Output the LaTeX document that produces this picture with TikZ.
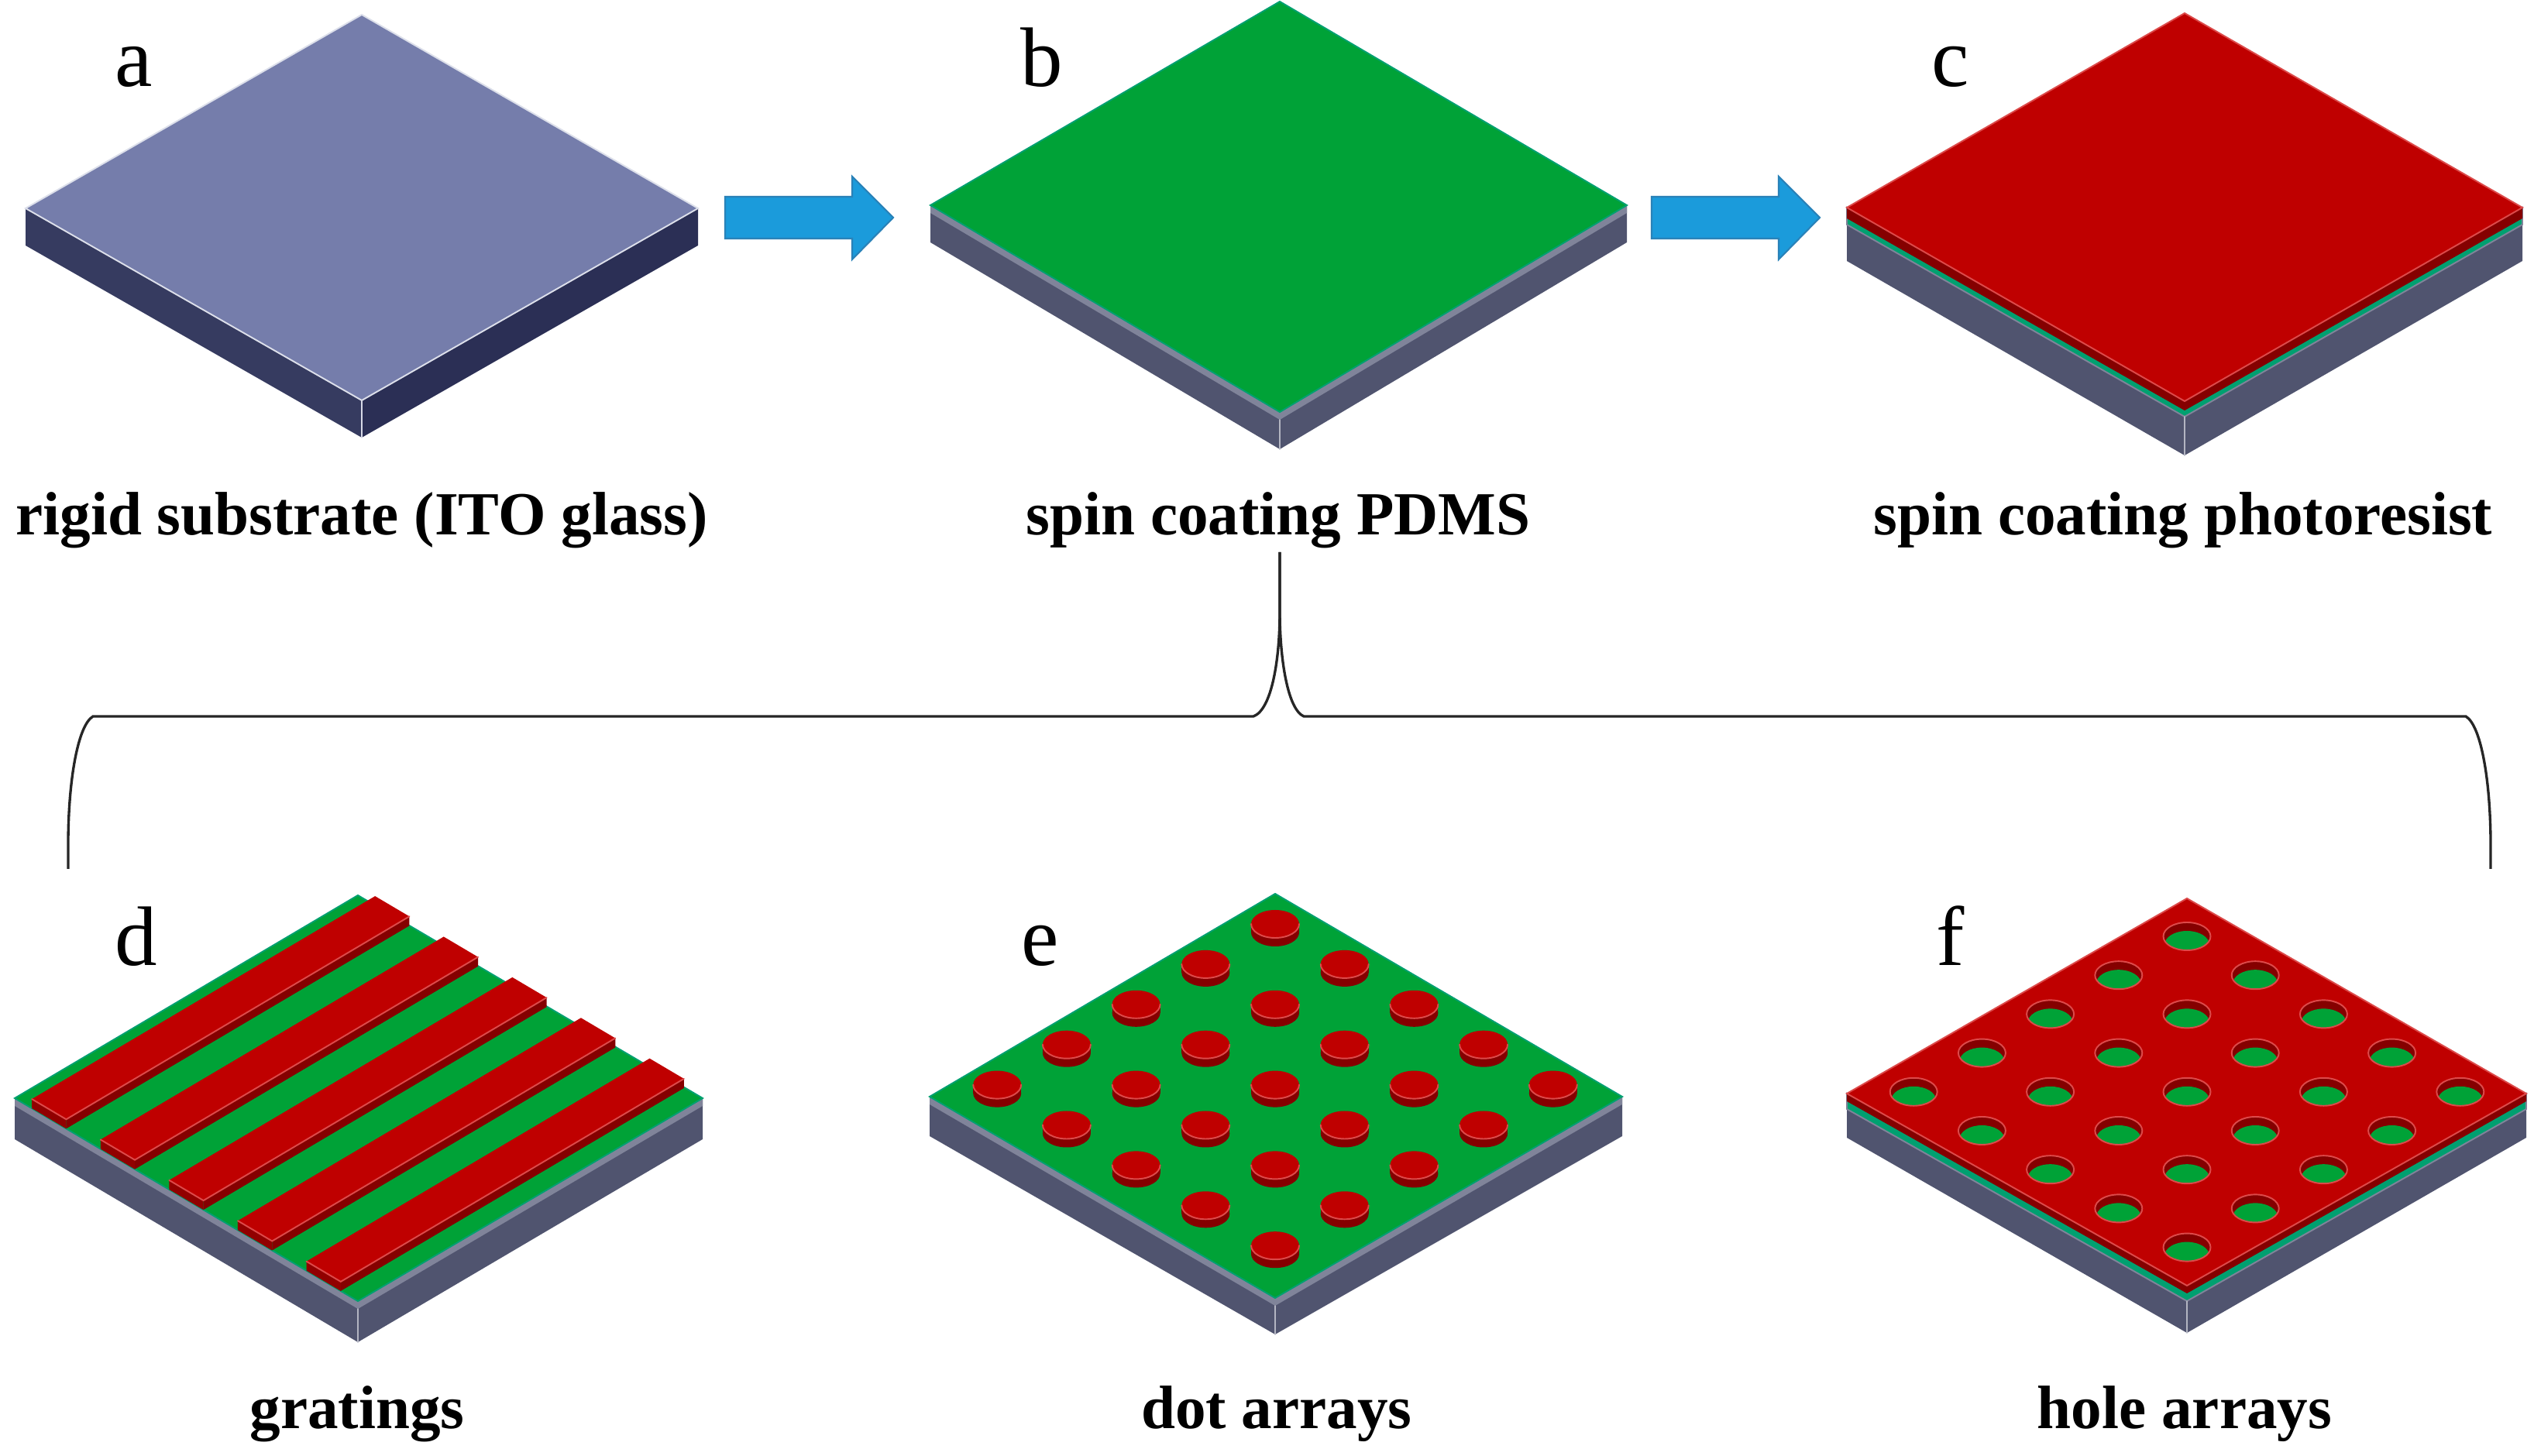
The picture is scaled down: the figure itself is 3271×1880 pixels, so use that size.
\documentclass[tikz,border=0pt]{standalone}
\usepackage{fontspec}
\setmainfont{Liberation Serif}
\definecolor{slabtop}{HTML}{757DAB}
\definecolor{slabl}{HTML}{363B60}
\definecolor{slabr}{HTML}{2B2F55}
\definecolor{basegray}{HTML}{50546F}
\definecolor{stripgray}{HTML}{80849A}
\definecolor{pdms}{HTML}{00A237}
\definecolor{pdmsedge}{HTML}{00A070}
\definecolor{resist}{HTML}{BF0000}
\definecolor{resistdark}{HTML}{850000}
\definecolor{resistedge}{HTML}{DC4A4A}
\definecolor{flow}{HTML}{1B9BDB}
\definecolor{flowedge}{HTML}{2A82B8}
\tikzset{
    capt/.style={font=\fontsize{22.5}{26}\selectfont\bfseries,anchor=base},
    tag/.style={font=\fontsize{31}{36}\selectfont,anchor=base},
    edgeline/.style={draw=#1,line width=0.55pt,line cap=round},
    bracket/.style={black!85,line width=0.95pt},
    flowarrow/.style={fill=flow,draw=flowedge,line width=0.6pt},
}
\begin{document}
\begin{tikzpicture}[x=0.01cm,y=-0.01cm]
        \useasboundingbox (0,0) rectangle (3271,1880);
        % a
        \fill[slabl] (33,269) -- (467,517) -- (467,565) -- (33,317) -- cycle;
        \fill[slabr] (901,269) -- (467,517) -- (467,565) -- (901,317) -- cycle;
        \filldraw[fill=slabtop,edgeline=white!75!slabtop] (467,19) -- (901,269) -- (467,517) -- (33,269) -- cycle;
        \draw[edgeline=white!70!slabtop] (467,517) -- (467,565);
        % b
        \fill[basegray] (1201,265) -- (1652,532) -- (2100,265) -- (2100,313) -- (1652,580) -- (1201,313) -- cycle;
        \fill[stripgray] (1201,265) -- (1652,532) -- (2100,265) -- (2100,275) -- (1652,542) -- (1201,275) -- cycle;
        \filldraw[fill=pdms,edgeline=pdmsedge] (1652,2) -- (2100,265) -- (1652,532) -- (1201,265) -- cycle;
        \draw[edgeline=stripgray!60!white] (1652,542) -- (1652,580);
        % c
        \fill[basegray] (2384,268) -- (2820,518) -- (3256,268) -- (3256,337) -- (2820,588) -- (2384,337) -- cycle;
        \filldraw[fill=pdmsedge,edgeline=stripgray] (2384,268) -- (2820,518) -- (3256,268) -- (3256,290) -- (2820,538) -- (2384,290) -- cycle;
        \fill[resistdark] (2384,268) -- (2820,518) -- (3256,268) -- (3256,282) -- (2820,530) -- (2384,282) -- cycle;
        \filldraw[fill=resist,edgeline=resistedge] (2820,17) -- (3256,268) -- (2820,518) -- (2384,268) -- cycle;
        \draw[edgeline=stripgray!60!white] (2820,538) -- (2820,588);
        % d
        \fill[basegray] (19,1418) -- (462,1680) -- (907,1418) -- (907,1471) -- (462,1733) -- (19,1471) -- cycle;
        \fill[stripgray] (19,1418) -- (462,1680) -- (907,1418) -- (907,1428) -- (462,1690) -- (19,1428) -- cycle;
        \filldraw[fill=pdms,edgeline=pdmsedge] (462,1156) -- (907,1418) -- (462,1680) -- (19,1418) -- cycle;
        \draw[edgeline=stripgray!60!white] (462,1690) -- (462,1733);
        \foreach \i in {0,...,4} {
            \pgfmathsetmacro{\sx}{41.15+88.6*\i}
            \pgfmathsetmacro{\sy}{1431.1+52.4*\i}
            \fill[resistdark] (\sx+44.3,\sy+26.2) -- ++(443,-262) -- ++(0,-12) -- ++(-443,262) -- cycle;
            \fill[resistdark!80!resist] (\sx,\sy) -- ++(44.3,26.2) -- ++(0,-12) -- ++(-44.3,-26.2) -- cycle;
            \fill[resist] (\sx,\sy-12) -- ++(44.3,26.2) -- ++(443,-262) -- ++(-44.3,-26.2) -- cycle;
            \draw[edgeline=resistedge] (\sx,\sy-12) -- ++(44.3,26.2) -- ++(443,-262);
        }
        % e
        \fill[basegray] (1200,1416) -- (1646,1676) -- (2094,1416) -- (2094,1467) -- (1646,1723) -- (1200,1467) -- cycle;
        \fill[stripgray] (1200,1416) -- (1646,1676) -- (2094,1416) -- (2094,1426) -- (1646,1686) -- (1200,1426) -- cycle;
        \filldraw[fill=pdms,edgeline=pdmsedge] (1646,1154) -- (2094,1416) -- (1646,1676) -- (1200,1416) -- cycle;
        \draw[edgeline=stripgray!60!white] (1646,1686) -- (1646,1723);
        \foreach \i in {0,...,4} {
            \foreach \j in {0,...,4} {
                \pgfmathsetmacro{\cx}{1646+89.7*(\i-\j)}
                \pgfmathsetmacro{\cy}{1193+51.9*(\i+\j)}
                \fill[resistdark] (\cx,\cy+11) ellipse (31 and 18);
                \fill[resistdark] (\cx-31,\cy) rectangle (\cx+31,\cy+11);
                \fill[resist] (\cx,\cy) ellipse (31 and 18);
                \draw[edgeline=resistedge] (\cx-31,\cy) arc (180:0:31 and 18);
            }
        }
        % f
        \fill[basegray] (2384,1412) -- (2823,1660) -- (3261,1412) -- (3261,1469) -- (2823,1721) -- (2384,1469) -- cycle;
        \filldraw[fill=pdmsedge,edgeline=stripgray] (2384,1412) -- (2823,1660) -- (3261,1412) -- (3261,1432) -- (2823,1680) -- (2384,1432) -- cycle;
        \fill[resistdark] (2384,1412) -- (2823,1660) -- (3261,1412) -- (3261,1422) -- (2823,1670) -- (2384,1422) -- cycle;
        \filldraw[fill=resist,edgeline=resistedge] (2823,1160) -- (3261,1412) -- (2823,1660) -- (2384,1412) -- cycle;
        \draw[edgeline=stripgray!60!white] (2823,1680) -- (2823,1721);
        \foreach \i in {0,...,4} {
            \foreach \j in {0,...,4} {
                \pgfmathsetmacro{\cx}{2823+88.2*(\i-\j)}
                \pgfmathsetmacro{\cy}{1209+50.2*(\i+\j)}
                \fill[resistdark] (\cx,\cy) ellipse (30.5 and 18);
                \begin{scope}
                    \clip (\cx,\cy) ellipse (30.5 and 18);
                    \fill[pdms] (\cx,\cy+11) ellipse (29 and 18);
                \end{scope}
                \draw[edgeline=resistedge] (\cx,\cy) ellipse (30.5 and 18);
            }
        }
        % block arrows
        \filldraw[flowarrow] (936,254) -- (1100,254) -- (1100,228) -- (1153,281) -- (1100,335) -- (1100,308) -- (936,308) -- cycle;
        \filldraw[flowarrow] (2132,254) -- (2296,254) -- (2296,228) -- (2349,281) -- (2296,335) -- (2296,308) -- (2132,308) -- cycle;
        % bracket
        \coordinate (tip) at (1652,713);
        \coordinate (endl) at (88,1122);
        \coordinate (endr) at (3215,1122);
        \draw[bracket] (endl) -- (88,1090) .. controls (88,1010) and (100,937) .. (120,925) -- (1618,925) .. controls (1642,916) and (1652,850) .. (1652,790) -- (tip);
        \draw[bracket] (endr) -- (3215,1090) .. controls (3215,1010) and (3203,937) .. (3183,925) -- (1683,925) .. controls (1662,916) and (1652,850) .. (1652,790) -- (tip);
        % letters
        \node[tag] (taga) at (173,112) {a};
        \node[tag] (tagb) at (1345,112) {b};
        \node[tag] (tagc) at (2518,112) {c};
        \node[tag] (tagd) at (176,1247) {d};
        \node[tag] (tage) at (1343,1247) {e};
        \node[tag] (tagf) at (2518,1247) {f};
        % captions
        \node[capt] (capa) at (467,691) {rigid substrate (ITO glass)};
        \node[capt] (capb) at (1650,691) {spin coating PDMS};
        \node[capt] (capc) at (2818,691) {spin coating photoresist};
        \node[capt] (capd) at (461,1845) {gratings};
        \node[capt] (cape) at (1648,1845) {dot arrays};
        \node[capt] (capf) at (2820,1845) {hole arrays};
    \end{tikzpicture}
\end{document}
